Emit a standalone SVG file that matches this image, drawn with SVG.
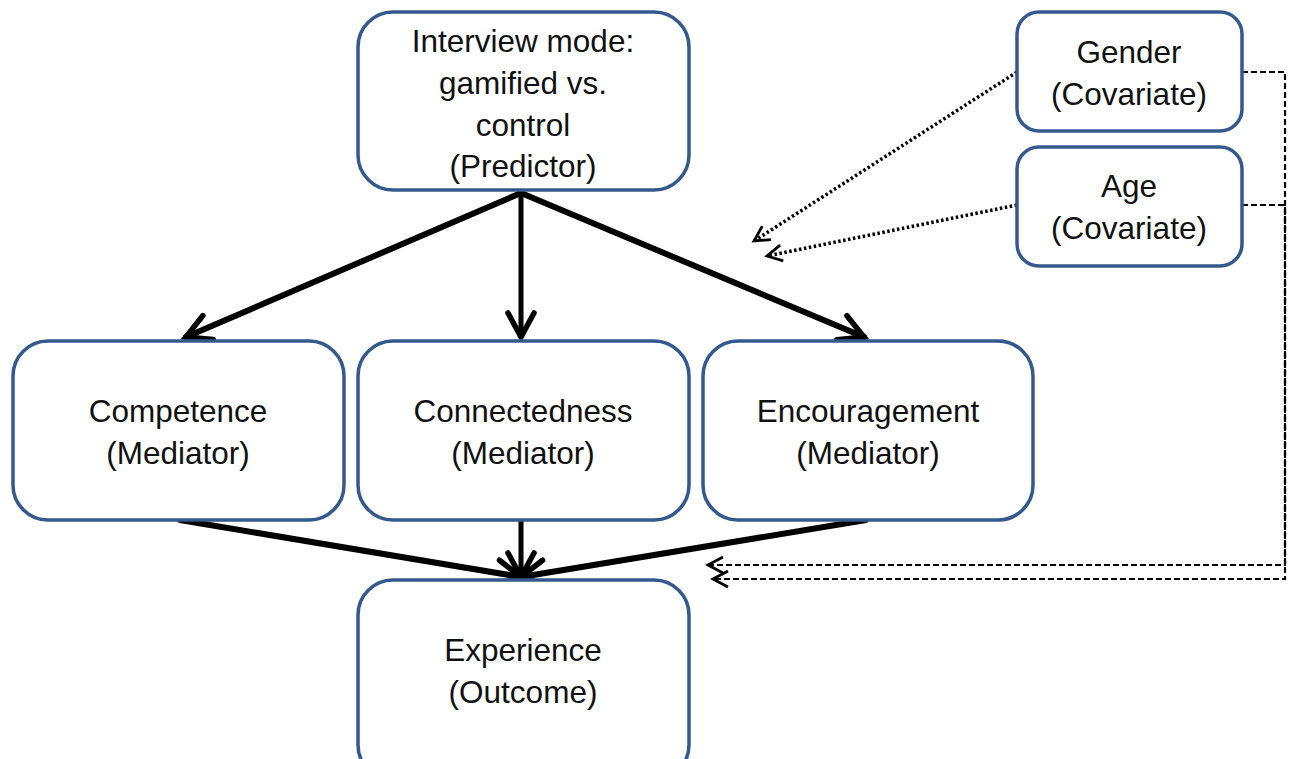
<svg xmlns="http://www.w3.org/2000/svg" width="1291" height="759" viewBox="0 0 1291 759">
<defs>
<style>
.box{fill:#fff;stroke:#34598C;stroke-width:3.5}
.t{font-family:"Liberation Sans",Arial,sans-serif;font-size:31.5px;fill:#111;text-anchor:middle}
.thick{stroke:#000;stroke-width:6;fill:none;stroke-linecap:round}
.mid{stroke:#000;stroke-width:5;fill:none}
.dot{stroke:#000;stroke-width:3.5;fill:none;stroke-dasharray:2.5 2.5}
.dash{stroke:#000;stroke-width:2.2;fill:none;stroke-dasharray:6 3}
</style>
<marker id="big" markerUnits="userSpaceOnUse" markerWidth="40" markerHeight="40" refX="0" refY="0" viewBox="-30 -20 40 40" orient="auto" overflow="visible">
<path d="M-24,-13 L0,0 L-24,13" fill="none" stroke="#000" stroke-width="5.5" stroke-linecap="round" stroke-linejoin="miter"/>
</marker>
<marker id="small" markerUnits="userSpaceOnUse" markerWidth="30" markerHeight="30" refX="0" refY="0" viewBox="-20 -15 30 30" orient="auto" overflow="visible">
<path d="M-15,-8 L0,0 L-15,8" fill="none" stroke="#000" stroke-width="2.8"/>
</marker>
</defs>
<rect width="1291" height="759" fill="#fff"/>
<g id="connectors">
<line class="thick" x1="521" y1="193" x2="186" y2="337" marker-end="url(#big)"/>
<line class="mid" x1="521" y1="193" x2="521" y2="337" marker-end="url(#big)"/>
<line class="thick" x1="521" y1="193" x2="864" y2="337" marker-end="url(#big)"/>
<line class="thick" x1="180" y1="520" x2="521" y2="577" marker-end="url(#big)"/>
<line class="mid" x1="521" y1="521" x2="521" y2="577" marker-end="url(#big)"/>
<line class="thick" x1="866" y1="520" x2="521" y2="577" marker-end="url(#big)"/>
<line class="dot" x1="1017" y1="72" x2="754" y2="241" marker-end="url(#small)"/>
<line class="dot" x1="1017" y1="205" x2="767" y2="256" marker-end="url(#small)"/>
<polyline class="dash" points="1242,72 1285,72 1285,565 708,565" marker-end="url(#small)"/>
<polyline class="dash" points="1242,205 1285,205 1285,579 713,579" marker-end="url(#small)"/>
</g>
<g id="predictor">
<rect class="box" x="358" y="12" width="331" height="178" rx="35"/>
<text class="t" x="523" y="52">Interview mode:</text>
<text class="t" x="523" y="94">gamified vs.</text>
<text class="t" x="523" y="136">control</text>
<text class="t" x="523" y="177">(Predictor)</text>
</g>
<g id="gender">
<rect class="box" x="1017" y="12" width="225" height="119" rx="22"/>
<text class="t" x="1129" y="63">Gender</text>
<text class="t" x="1129" y="105">(Covariate)</text>
</g>
<g id="age">
<rect class="box" x="1017" y="147" width="225" height="119" rx="22"/>
<text class="t" x="1129" y="197">Age</text>
<text class="t" x="1129" y="239">(Covariate)</text>
</g>
<g id="competence">
<rect class="box" x="13" y="341" width="331" height="179" rx="35"/>
<text class="t" x="178" y="422">Competence</text>
<text class="t" x="178" y="464">(Mediator)</text>
</g>
<g id="connectedness">
<rect class="box" x="358" y="341" width="331" height="179" rx="35"/>
<text class="t" x="523" y="422">Connectedness</text>
<text class="t" x="523" y="464">(Mediator)</text>
</g>
<g id="encouragement">
<rect class="box" x="703" y="341" width="330" height="179" rx="35"/>
<text class="t" x="868" y="422">Encouragement</text>
<text class="t" x="868" y="464">(Mediator)</text>
</g>
<g id="experience">
<rect class="box" x="358" y="580" width="331" height="200" rx="35"/>
<text class="t" x="523" y="661">Experience</text>
<text class="t" x="523" y="703">(Outcome)</text>
</g>
</svg>
